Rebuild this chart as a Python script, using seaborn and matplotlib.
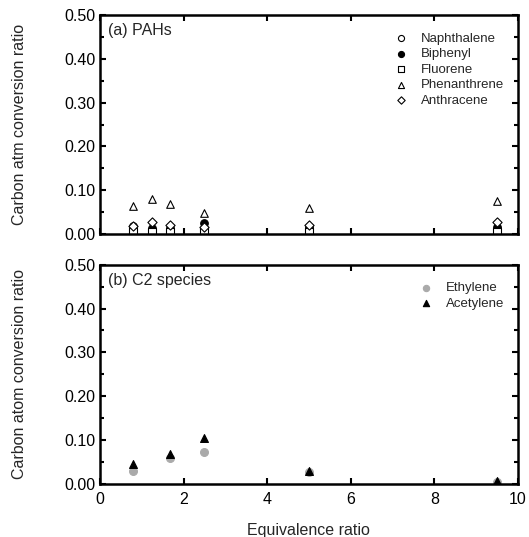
import pandas as pd
import matplotlib
matplotlib.use('Agg')
import matplotlib.pyplot as plt
import seaborn as sns

# Equivalence ratios tested
phi = [0.8, 1.25, 1.67, 2.5, 5.0, 9.5]
phi_c2 = [0.8, 1.67, 2.5, 5.0, 9.5]

# (a) PAH carbon conversion ratios
naphthalene = [0.012, 0.010, 0.010, 0.012, 0.012, 0.011]
biphenyl = [0.019, 0.014, 0.014, 0.025, 0.016, 0.016]
fluorene = [0.005, 0.005, 0.005, 0.007, 0.005, 0.005]
phenanthrene = [0.064, 0.080, 0.068, 0.048, 0.059, 0.076]
anthracene = [0.018, 0.028, 0.021, 0.017, 0.020, 0.027]

# (b) C2 species
ethylene = [0.029, 0.060, 0.072, 0.028, 0.004]
acetylene = [0.046, 0.068, 0.104, 0.030, 0.006]

pah = pd.DataFrame({'phi': phi, 'Naphthalene': naphthalene, 'Biphenyl': biphenyl,
                    'Fluorene': fluorene, 'Phenanthrene': phenanthrene,
                    'Anthracene': anthracene})
c2 = pd.DataFrame({'phi': phi_c2, 'Ethylene': ethylene, 'Acetylene': acetylene})

sns.set_style("white")
plt.rcParams['font.family'] = ['Liberation Sans', 'DejaVu Sans']

fig = plt.figure(figsize=(5.29, 5.37), dpi=100)
ax1 = fig.add_axes([0.189, 0.564, 0.790, 0.408])
ax2 = fig.add_axes([0.189, 0.099, 0.790, 0.408])

pah_styles = {
    'Naphthalene': dict(marker='o', facecolor='white', edgecolor='black'),
    'Biphenyl': dict(marker='o', facecolor='black', edgecolor='black'),
    'Fluorene': dict(marker='s', facecolor='white', edgecolor='black'),
    'Phenanthrene': dict(marker='^', facecolor='white', edgecolor='black'),
    'Anthracene': dict(marker='D', facecolor='white', edgecolor='black'),
}
for name, st in pah_styles.items():
    size = 22 if st['marker'] == 'D' else 30
    sns.scatterplot(data=pah, x='phi', y=name, ax=ax1, label=name, s=size,
                    linewidth=0.8, **st)

c2_styles = {
    'Ethylene': dict(marker='o', facecolor='#aaaaaa', edgecolor='#aaaaaa'),
    'Acetylene': dict(marker='^', facecolor='black', edgecolor='black'),
}
for name, st in c2_styles.items():
    sns.scatterplot(data=c2, x='phi', y=name, ax=ax2, label=name, s=32,
                    linewidth=0.8, **st)

for ax in (ax1, ax2):
    ax.set_xlim(0, 10)
    ax.set_ylim(0, 0.5)
    ax.set_xticks([0, 2, 4, 6, 8, 10])
    ax.set_yticks([0, 0.1, 0.2, 0.3, 0.4, 0.5])
    ax.set_yticks([0.05, 0.15, 0.25, 0.35, 0.45], minor=True)
    ax.yaxis.set_major_formatter(matplotlib.ticker.FormatStrFormatter('%.2f'))
    for sp in ax.spines.values():
        sp.set_visible(True)
        sp.set_linewidth(1.8)
        sp.set_color('black')
    ax.tick_params(which='both', direction='in', top=True, right=True,
                   bottom=True, left=True, width=1.5, colors='black',
                   labelsize=11.5, pad=3)
    ax.tick_params(which='major', length=4)
    ax.tick_params(which='minor', length=3)
    ax.tick_params(axis='x', pad=6)
    ax.yaxis.set_label_coords(-0.175, 0.5)

ax1.legend(frameon=False, loc='upper right', bbox_to_anchor=(0.995, 0.975),
           fontsize=9.5, labelspacing=0.25, handletextpad=0.5, markerscale=0.8)
ax2.legend(frameon=False, loc='upper right', bbox_to_anchor=(0.995, 0.975),
           fontsize=9.5, labelspacing=0.25, handletextpad=0.5, markerscale=0.8)

ax1.set_xlabel('')
ax1.tick_params(axis='x', labelbottom=False)
ax1.set_ylabel('Carbon atm conversion ratio', fontsize=11.5)
ax2.set_ylabel('Carbon atom conversion ratio', fontsize=11.5)
ax2.set_xlabel('Equivalence ratio', fontsize=11.5)
ax2.xaxis.set_label_coords(0.5, -0.18)

ax1.text(0.02, 0.93, '(a) PAHs', transform=ax1.transAxes, fontsize=11.5, va='center')
ax2.text(0.02, 0.93, '(b) C2 species', transform=ax2.transAxes, fontsize=11.5, va='center')

fig.savefig('out.png', dpi=100)
